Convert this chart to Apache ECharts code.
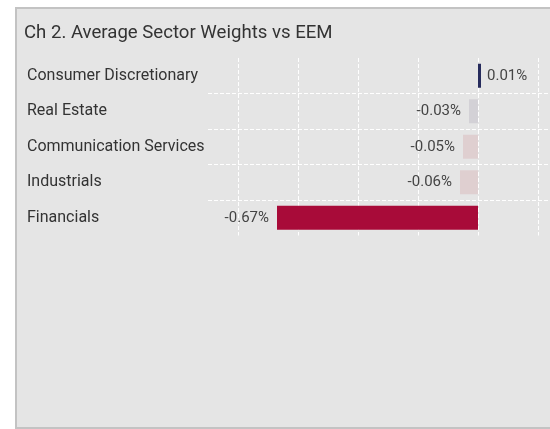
<!DOCTYPE html>
<html>
<head>
<meta charset="utf-8">
<script src="https://cdn.jsdelivr.net/npm/echarts@6/dist/echarts.min.js"></script>
<style>
  html, body { margin: 0; padding: 0; background: #ffffff; overflow: hidden; width: 550px; height: 429px; }
  #panel {
    position: absolute; left: 15px; top: 7px;
    width: 560px; height: 418px;
    border: 2px solid #c3c3c3;
    background: #e5e5e5;
  }
  #chart { width: 560px; height: 418px; }
</style>
</head>
<body>
<div id="panel"><div id="chart"></div></div>
<script>
// Sector active weights (percentage points) against EEM
const categories = ['Consumer Discretionary', 'Real Estate', 'Communication Services', 'Industrials', 'Financials'];
const values = [0.01, -0.03, -0.05, -0.06, -0.67];
const barColors = ['#262b5c', '#d3d1d6', '#dfcfd0', '#dfcfd0', '#a80b39'];

const FONT = 'Roboto';

const chart = echarts.init(document.getElementById('chart'), null, { renderer: 'canvas' });

const gridLine = { color: '#ffffff', width: 1, type: [4, 2] };

chart.setOption({
  animation: false,
  backgroundColor: 'transparent',
  title: {
    text: 'Ch 2. Average Sector Weights vs EEM',
    left: 2,
    top: 10,
    textStyle: { fontFamily: FONT, fontSize: 18.6, fontWeight: 'normal', color: '#333333' }
  },
  grid: { left: 191, top: 49, width: 360, height: 177.5, containLabel: false },
  xAxis: {
    type: 'value',
    min: -0.9,
    max: 0.3,
    splitNumber: 6,
    axisLine: { show: false },
    axisTick: { show: false },
    axisLabel: { show: false },
    splitLine: { show: true, showMinLine: false, showMaxLine: false, lineStyle: gridLine }
  },
  yAxis: {
    type: 'category',
    data: categories,
    inverse: true,
    axisLine: { show: false },
    axisTick: { show: false },
    axisLabel: {
      align: 'left',
      margin: 181,
      fontFamily: FONT,
      fontSize: 16,
      color: '#333333'
    },
    splitLine: { show: true, showMinLine: false, showMaxLine: false, lineStyle: gridLine }
  },
  series: [{
    type: 'bar',
    barWidth: 24,
    data: values.map((v, i) => ({
      value: v,
      itemStyle: { color: barColors[i] },
      label: {
        show: true,
        position: v >= 0 ? 'right' : 'left',
        distance: v >= 0 ? 6 : 8
      }
    })),
    label: {
      fontFamily: FONT,
      fontSize: 15,
      color: '#444444',
      formatter: p => p.value.toFixed(2) + '%'
    }
  }]
});
</script>
</body>
</html>
